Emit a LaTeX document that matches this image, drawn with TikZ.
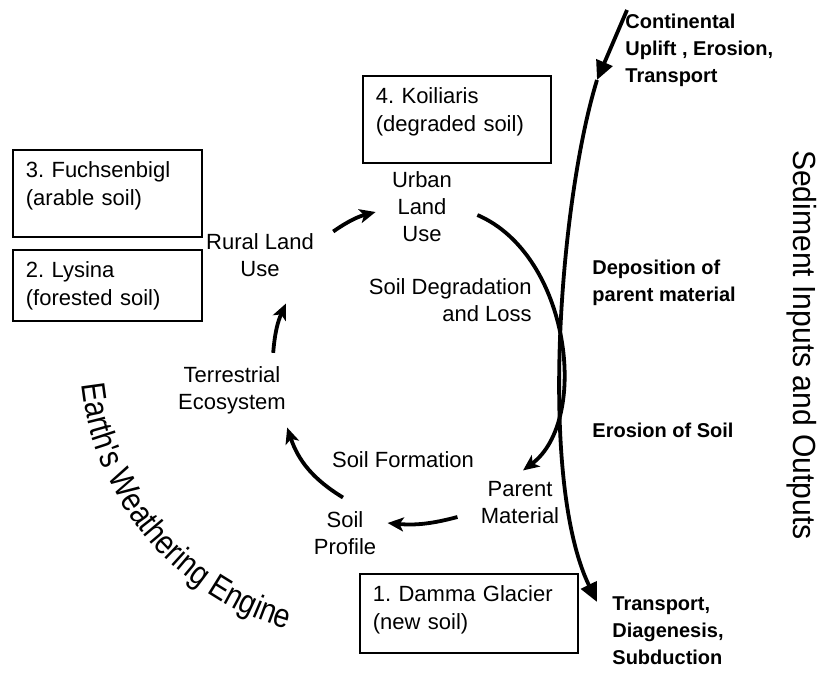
\documentclass[tikz,border=0pt]{standalone}
\usepackage{fontspec}
\setmainfont{Liberation Sans}
\newfontfamily\sedsans[FakeStretch=0.94]{Liberation Sans}
\newfontfamily\earthsans[FakeStretch=0.85]{Liberation Sans}
\newcommand\earthfont{\earthsans\fontsize{16.8}{16.8}\selectfont}
\usetikzlibrary{arrows.meta,decorations.text}
\frenchspacing

\tikzset{
  box/.style={draw, line width=0.9pt, anchor=north west, align=left,
    inner xsep=6.5pt, inner ysep=0pt, text height=14pt,
    font=\fontsize{11}{14}\selectfont},
  lbl/.style={align=center, inner sep=0pt, font=\fontsize{11}{13.5}\selectfont},
  side/.style={align=left, anchor=west, inner sep=0pt,
    font=\bfseries\fontsize{10}{13.5}\selectfont},
  cyc/.style={line width=1.9pt, -{Stealth[length=8pt,width=7pt,inset=2pt]}},
  sed/.style={line width=1.9pt, -{Triangle[length=9.5pt,width=8.5pt]}},
}

\begin{document}
\begin{tikzpicture}[x=0.5pt,y=0.5pt]
  \useasboundingbox (0,0) rectangle (818,-673);
  % the four sites
  \node[box, text width=81.5pt, text depth=29.5pt] (fuchs) at (12,-149) {3. Fuchsenbigl\\(arable soil)};
  \node[box, text width=81.5pt, text depth=21.5pt] (lysina) at (12,-249) {2. Lysina\\(forested soil)};
  \node[box, text width=81pt, text depth=29.5pt] (koil) at (362,-75) {4. Koiliaris\\(degraded soil)};
  \node[box, text width=96pt, text depth=25.5pt] (damma) at (359,-573) {1. Damma Glacier\\(new soil)};

  % weathering cycle
  \node[lbl] (urban) at (422,-207) {Urban\\Land\\Use};
  \node[lbl] (rural) at (260,-255.5) {Rural Land\\Use};
  \node[lbl, align=right, anchor=east] (degr) at (532,-300.5) {Soil Degradation\\and Loss};
  \node[lbl] (terr) at (232,-390) {Terrestrial\\Ecosystem};
  \node[lbl] (form) at (403,-460) {Soil Formation};
  \node[lbl] (parent) at (520,-503) {Parent\\Material};
  \node[lbl] (profile) at (345,-533.5) {Soil\\Profile};

  \draw[cyc] ([xshift=9.5pt,yshift=1pt]rural.north east) to[bend left=10] ([xshift=-8pt,yshift=-2.5pt]urban.west);
  \draw[cyc] ([xshift=12.5pt,yshift=-4pt]urban.east) .. controls +(46.5pt,-20pt) and +(33.5pt,25pt) .. ([xshift=1.5pt,yshift=5.5pt]parent.north);
  \draw[cyc] ([xshift=-11.5pt,yshift=-7pt]parent.west) to[bend left=10] ([xshift=5.5pt,yshift=5.25pt]profile.east);
  \draw[cyc] ([xshift=-1pt,yshift=7pt]profile.north) to[bend left=20] ([xshift=0.5pt,yshift=-6.7pt]terr.south east);
  \draw[cyc] ([xshift=-6.5pt,yshift=6.5pt]terr.north east) to[bend left=10] ([xshift=13pt,yshift=-13pt]rural.south);

  % sediment inputs and outputs
  \node[side] (cont) at (625,-50) {Continental\\Uplift , Erosion,\\Transport};
  \node[side] (depo) at (592,-282.5) {Deposition of\\parent material};
  \node[side] (eros) at (592,-430.5) {Erosion of Soil};
  \node[side] (subd) at (612,-630.5) {Transport,\\Diagenesis,\\Subduction};
  \node[rotate=-90, anchor=north, inner sep=0pt, font=\sedsans\fontsize{16}{16}\selectfont]
    (sedlbl) at (817,-345) {Sediment Inputs and Outputs};

  \coordinate (src) at (627,-10);
  \coordinate (drop) at (597,-80);
  \coordinate (sink) at (597,-602);
  \draw[sed] (src) -- (drop);
  \draw[sed] (drop) .. controls (560,-200) and (538,-480) .. (sink);

  % curved title
  \path[decorate, decoration={text along path, text align=left,
      text={|\earthfont|Earth's Weathering Engine}}]
    ([shift={(186:285)}]365,-355) arc[start angle=186, end angle=265, radius=285];
\end{tikzpicture}
\end{document}
